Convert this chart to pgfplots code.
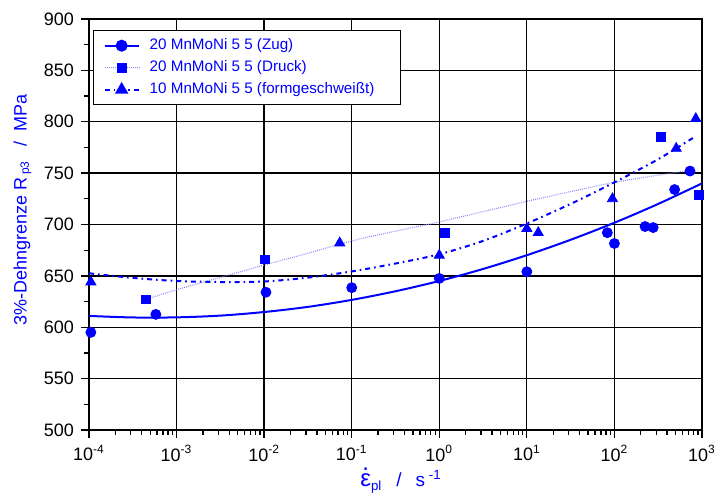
\documentclass[border=0pt]{standalone}
\usepackage{fontspec}
\setmainfont{Liberation Sans}
\usepackage{pgfplots}
\pgfplotsset{compat=1.18}
\definecolor{myblue}{RGB}{0,0,255}
\definecolor{lightblue}{RGB}{135,135,255}
\newcommand{\epsdot}{{\fontsize{12}{13}\selectfont\ooalign{ε\cr\hidewidth\raisebox{0.66em}{.}\hidewidth\cr}}}
\begin{document}
\begin{tikzpicture}
\begin{axis}[
  xmode=log, scale only axis, width=306.5pt, height=205.5pt,
  xmin=1e-4, xmax=1e3, ymin=500, ymax=900,
  clip=false,
  xtick={1e-4,1e-3,1e-2,1e-1,1,10,100,1000},
  xticklabels={10\textsuperscript{-4},10\textsuperscript{-3},10\textsuperscript{-2},10\textsuperscript{-1},10\textsuperscript{0},10\textsuperscript{1},10\textsuperscript{2},10\textsuperscript{3}},
  minor xtick={2e-4,3e-4,4e-4,5e-4,6e-4,7e-4,8e-4,9e-4,
               2e-3,3e-3,4e-3,5e-3,6e-3,7e-3,8e-3,9e-3,
               2e-2,3e-2,4e-2,5e-2,6e-2,7e-2,8e-2,9e-2,
               0.2,0.3,0.4,0.5,0.6,0.7,0.8,0.9,
               2,3,4,5,6,7,8,9,
               20,30,40,50,60,70,80,90,
               200,300,400,500,600,700,800,900},
  ytick={500,550,...,900},
  minor ytick={525,575,...,875},
  grid=major,
  major grid style={black, line width=0.65pt},
  axis line style={black, line width=0.8pt},
  tick align=outside, xtick pos=bottom, ytick pos=left,
  major tick length=4pt, minor tick length=2.5pt,
  every tick/.style={black, line width=0.65pt},
  /pgf/number format/assume math mode=true,
  tick label style={font=\fontsize{9}{10}\selectfont, black},
  xlabel={\epsdot\textsubscript{pl}\hspace{7pt}/\hspace{7pt}s\textsuperscript{ -1}},
  ylabel={3\%-Dehngrenze R\hspace{1.5pt}\textsubscript{p3}\hspace{7pt}/\hspace{5pt}MPa},
  label style={font=\fontsize{9.5}{10}\selectfont, text=myblue},
  xlabel style={at={(rel axis cs:0.509,-0.138)}, anchor=base},
  ylabel style={font=\fontsize{9}{10}\selectfont, at={(rel axis cs:-0.1085,0.535)}, anchor=center},
  legend style={at={(rel axis cs:0.0065,0.973)}, anchor=north west,
    draw=black, line width=0.6pt, fill=white, font=\fontsize{7.6}{8.6}\selectfont,
    text=myblue, row sep=0pt, inner xsep=5pt, inner ysep=2pt,
    legend cell align=left,
    /tikz/every odd column/.append style={column sep=3pt}},
]
% fitted curves
\addplot[myblue, line width=1pt, smooth, forget plot] coordinates {
 (1e-4,611.0) (3.162e-4,609.5) (1e-3,609.6) (3.162e-3,611.3) (1e-2,614.8)
 (3.162e-2,619.8) (0.1,626.6) (0.3162,635.0) (1,645.0) (3.162,656.7)
 (10,670.1) (31.62,685.1) (100,701.7) (316.2,720.0) (1000,740.0)};
\addplot[lightblue, line width=0.6pt, dash pattern=on 0.4pt off 0.6pt, smooth, forget plot] coordinates {
 (4.47e-4,627) (1e-3,636.5) (3.162e-3,648.5) (1e-2,660.5) (3.162e-2,672)
 (0.1,684) (0.3162,693.5) (1,702.5) (3.162,712.5) (10,722.5)
 (31.62,732) (100,741) (316.2,748) (794,753)};
\addplot[myblue, line width=1pt, dash pattern=on 2.5pt off 2pt on 0.8pt off 2pt, smooth, forget plot] coordinates {
 (1e-4,652.5) (3.162e-4,648) (1e-3,645) (3.162e-3,644) (1e-2,644.5)
 (3.162e-2,648.3) (0.1,654.3) (0.3162,662) (1,671) (3.162,684)
 (10,701) (31.62,720) (100,741) (316.2,763.5) (851,786)};
% data points
\addplot[only marks, mark=*, mark size=2.5pt, myblue, forget plot] coordinates {
 (1.05e-4,595) (5.8e-4,612.5) (1.05e-2,634) (0.1,638.5) (1,647.5) (10,654)
 (83,692) (100,681.5) (224,698) (277,697) (487,734) (730,752)};
\addplot[only marks, mark=square*, mark size=2.2pt, myblue, forget plot] coordinates {
 (4.5e-4,627) (1.02e-2,666) (1.16,692) (340,785.5) (916,729)};
\addplot[only marks, mark=triangle*, mark size=2.9pt, myblue, forget plot] coordinates {
 (1.05e-4,644) (0.073,682) (1,670) (10,696) (13.5,692) (95,725) (508,774) (850,803)};
% legend
\addlegendimage{myblue, line width=1pt, mark=*, mark size=2.5pt, mark options={solid}}
\addlegendentry{20 MnMoNi 5 5 (Zug)}
\addlegendimage{lightblue, line width=0.6pt, dash pattern=on 0.4pt off 0.6pt, mark=square*, mark size=2.2pt, mark options={solid, fill=myblue, draw=myblue}}
\addlegendentry{20 MnMoNi 5 5 (Druck)}
\addlegendimage{myblue, line width=1pt, dash pattern=on 2.5pt off 2pt on 0.8pt off 2pt, mark=triangle*, mark size=2.9pt, mark options={solid}}
\addlegendentry{10 MnMoNi 5 5 (formgeschweißt)\hspace*{6pt}}
\coordinate (bbA) at (rel axis cs:-0.1452,-0.1582);
\coordinate (bbB) at (rel axis cs:1.0196,1.0462);
\end{axis}
\pgfresetboundingbox
\useasboundingbox (bbA) rectangle (bbB);
\end{tikzpicture}
\end{document}
